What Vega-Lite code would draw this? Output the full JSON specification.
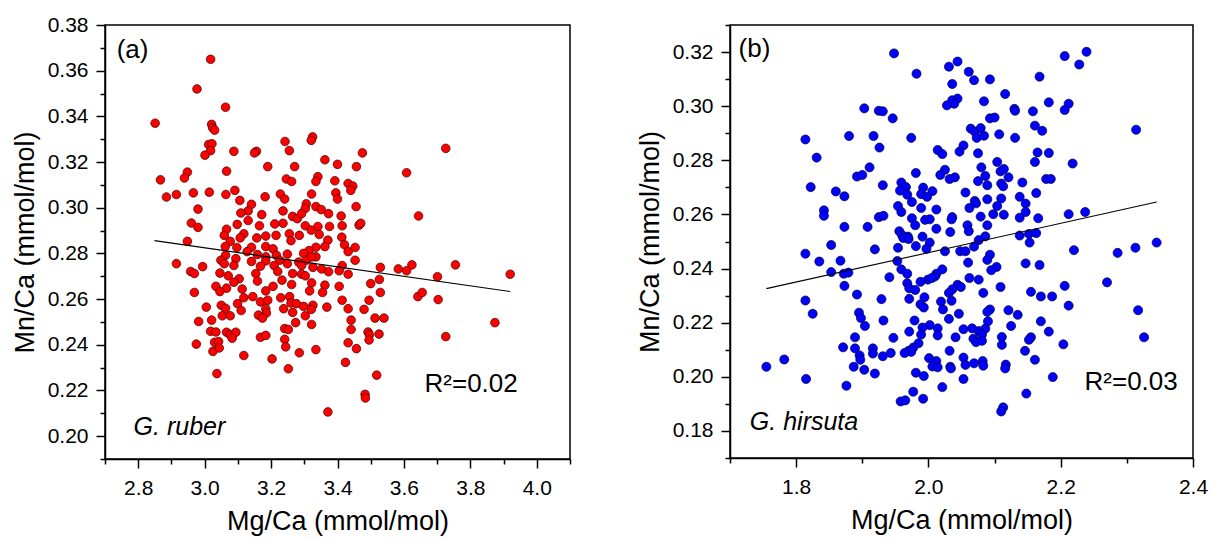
{
  "$schema": "https://vega.github.io/schema/vega-lite/v6.json",
  "padding": {"left": 10, "top": 13, "right": 5, "bottom": 5},
  "spacing": 160,
  "bounds": "flush",
  "config": {
    "view": {"stroke": "black", "strokeWidth": 1.5},
    "axis": {"domainColor": "black", "domainWidth": 1.5, "tickColor": "black", "tickWidth": 1.5, "labelColor": "black", "titleColor": "black", "labelFont": "Liberation Sans", "titleFont": "Liberation Sans", "labelFontSize": 21, "titleFontSize": 27, "titleFontWeight": "normal", "grid": false, "labelFlush": false, "labelOverlap": false},
    "text": {"font": "Liberation Sans"}
  },
  "datasets": {
    "ruber": [
      {"MgCa":3.018,"MnCa":0.365},{"MgCa":2.977,"MnCa":0.352},{"MgCa":3.063,"MnCa":0.344},{"MgCa":2.851,"MnCa":0.337},{"MgCa":3.021,"MnCa":0.3365},{"MgCa":3.024,"MnCa":0.335},{"MgCa":3.030,"MnCa":0.334},{"MgCa":3.726,"MnCa":0.326},{"MgCa":3.325,"MnCa":0.331},{"MgCa":3.321,"MnCa":0.3295},
      {"MgCa":3.242,"MnCa":0.329},{"MgCa":3.255,"MnCa":0.325},{"MgCa":3.156,"MnCa":0.3247},{"MgCa":3.150,"MnCa":0.324},{"MgCa":3.088,"MnCa":0.3247},{"MgCa":3.475,"MnCa":0.324},{"MgCa":3.012,"MnCa":0.3277},{"MgCa":3.022,"MnCa":0.328},{"MgCa":3.018,"MnCa":0.325},{"MgCa":3.001,"MnCa":0.323},
      {"MgCa":3.362,"MnCa":0.321},{"MgCa":3.271,"MnCa":0.318},{"MgCa":3.19,"MnCa":0.318},{"MgCa":3.40,"MnCa":0.319},{"MgCa":3.457,"MnCa":0.318},{"MgCa":3.066,"MnCa":0.316},{"MgCa":2.948,"MnCa":0.3156},{"MgCa":3.608,"MnCa":0.3153},{"MgCa":2.867,"MnCa":0.3122},{"MgCa":2.939,"MnCa":0.313},
      {"MgCa":3.246,"MnCa":0.3126},{"MgCa":3.262,"MnCa":0.3115},{"MgCa":3.341,"MnCa":0.3136},{"MgCa":3.335,"MnCa":0.3115},{"MgCa":3.392,"MnCa":0.3118},{"MgCa":3.432,"MnCa":0.3106},{"MgCa":3.446,"MnCa":0.3095},{"MgCa":3.440,"MnCa":0.3076},{"MgCa":2.885,"MnCa":0.3047},{"MgCa":2.915,"MnCa":0.3058},
      {"MgCa":2.966,"MnCa":0.3065},{"MgCa":3.014,"MnCa":0.3068},{"MgCa":3.064,"MnCa":0.3058},{"MgCa":3.091,"MnCa":0.3076},{"MgCa":3.182,"MnCa":0.3048},{"MgCa":3.228,"MnCa":0.306},{"MgCa":3.241,"MnCa":0.3038},{"MgCa":3.106,"MnCa":0.3032},{"MgCa":3.322,"MnCa":0.306},{"MgCa":3.395,"MnCa":0.3065},
      {"MgCa":3.40,"MnCa":0.3038},{"MgCa":3.306,"MnCa":0.3017},{"MgCa":3.303,"MnCa":0.2997},{"MgCa":3.335,"MnCa":0.3005},{"MgCa":3.351,"MnCa":0.2992},{"MgCa":3.456,"MnCa":0.3005},{"MgCa":2.98,"MnCa":0.2994},{"MgCa":3.141,"MnCa":0.3015},{"MgCa":3.131,"MnCa":0.2986},{"MgCa":3.109,"MnCa":0.2977},
      {"MgCa":3.172,"MnCa":0.297},{"MgCa":3.236,"MnCa":0.2986},{"MgCa":3.265,"MnCa":0.2962},{"MgCa":3.279,"MnCa":0.2952},{"MgCa":3.292,"MnCa":0.2974},{"MgCa":3.373,"MnCa":0.2974},{"MgCa":3.411,"MnCa":0.2964},{"MgCa":3.644,"MnCa":0.2964},{"MgCa":2.96,"MnCa":0.2933},{"MgCa":2.98,"MnCa":0.2914},
      {"MgCa":3.066,"MnCa":0.2906},{"MgCa":3.098,"MnCa":0.2927},{"MgCa":3.131,"MnCa":0.2944},{"MgCa":3.165,"MnCa":0.2921},{"MgCa":3.211,"MnCa":0.2929},{"MgCa":3.236,"MnCa":0.2932},{"MgCa":3.303,"MnCa":0.2921},{"MgCa":3.321,"MnCa":0.2902},{"MgCa":3.341,"MnCa":0.2918},{"MgCa":3.376,"MnCa":0.2918},
      {"MgCa":3.414,"MnCa":0.2921},{"MgCa":3.465,"MnCa":0.2924},{"MgCa":3.47,"MnCa":0.2932},{"MgCa":3.118,"MnCa":0.2886},{"MgCa":3.059,"MnCa":0.2879},{"MgCa":3.157,"MnCa":0.2868},{"MgCa":3.184,"MnCa":0.2876},{"MgCa":3.215,"MnCa":0.2879},{"MgCa":3.255,"MnCa":0.2886},{"MgCa":3.26,"MnCa":0.2856},
      {"MgCa":3.285,"MnCa":0.2879},{"MgCa":3.345,"MnCa":0.2883},{"MgCa":3.413,"MnCa":0.2871},{"MgCa":3.371,"MnCa":0.2858},{"MgCa":2.948,"MnCa":0.2853},{"MgCa":3.077,"MnCa":0.2853},{"MgCa":3.107,"MnCa":0.2868},{"MgCa":3.062,"MnCa":0.283},{"MgCa":3.097,"MnCa":0.2826},{"MgCa":3.141,"MnCa":0.2827},
      {"MgCa":3.184,"MnCa":0.283},{"MgCa":3.206,"MnCa":0.282},{"MgCa":3.335,"MnCa":0.2827},{"MgCa":3.362,"MnCa":0.283},{"MgCa":3.453,"MnCa":0.2826},{"MgCa":3.421,"MnCa":0.2838},{"MgCa":3.314,"MnCa":0.2812},{"MgCa":3.298,"MnCa":0.28},{"MgCa":3.249,"MnCa":0.2797},{"MgCa":3.063,"MnCa":0.2792},
      {"MgCa":3.128,"MnCa":0.2808},{"MgCa":3.159,"MnCa":0.2795},{"MgCa":3.184,"MnCa":0.2785},{"MgCa":3.216,"MnCa":0.2792},{"MgCa":3.432,"MnCa":0.2808},{"MgCa":3.335,"MnCa":0.2785},{"MgCa":3.453,"MnCa":0.277},{"MgCa":3.094,"MnCa":0.2777},{"MgCa":3.049,"MnCa":0.277},{"MgCa":3.141,"MnCa":0.2765},
      {"MgCa":3.184,"MnCa":0.2767},{"MgCa":3.226,"MnCa":0.277},{"MgCa":3.283,"MnCa":0.2762},{"MgCa":3.306,"MnCa":0.277},{"MgCa":3.322,"MnCa":0.2785},{"MgCa":2.915,"MnCa":0.2755},{"MgCa":2.994,"MnCa":0.2742},{"MgCa":3.059,"MnCa":0.2755},{"MgCa":3.088,"MnCa":0.2747},{"MgCa":3.168,"MnCa":0.2744},
      {"MgCa":3.209,"MnCa":0.2747},{"MgCa":3.249,"MnCa":0.2755},{"MgCa":3.292,"MnCa":0.2747},{"MgCa":3.326,"MnCa":0.2739},{"MgCa":3.352,"MnCa":0.2732},{"MgCa":3.414,"MnCa":0.2747},{"MgCa":3.529,"MnCa":0.2739},{"MgCa":3.583,"MnCa":0.2732},{"MgCa":3.624,"MnCa":0.275},{"MgCa":3.755,"MnCa":0.275},
      {"MgCa":2.958,"MnCa":0.2721},{"MgCa":2.969,"MnCa":0.2712},{"MgCa":3.046,"MnCa":0.2714},{"MgCa":3.071,"MnCa":0.2702},{"MgCa":3.154,"MnCa":0.2712},{"MgCa":3.22,"MnCa":0.2721},{"MgCa":3.265,"MnCa":0.2712},{"MgCa":3.292,"MnCa":0.2709},{"MgCa":3.373,"MnCa":0.272},{"MgCa":3.405,"MnCa":0.2724},
      {"MgCa":3.432,"MnCa":0.2709},{"MgCa":3.608,"MnCa":0.2724},{"MgCa":3.92,"MnCa":0.2709},{"MgCa":3.701,"MnCa":0.2698},{"MgCa":3.303,"MnCa":0.2702},{"MgCa":3.104,"MnCa":0.2689},{"MgCa":3.159,"MnCa":0.2679},{"MgCa":3.233,"MnCa":0.2683},{"MgCa":3.322,"MnCa":0.2671},{"MgCa":3.362,"MnCa":0.2661},
      {"MgCa":3.405,"MnCa":0.2656},{"MgCa":3.5,"MnCa":0.2668},{"MgCa":3.526,"MnCa":0.2686},{"MgCa":3.088,"MnCa":0.2674},{"MgCa":3.034,"MnCa":0.2656},{"MgCa":3.066,"MnCa":0.2648},{"MgCa":3.113,"MnCa":0.2644},{"MgCa":3.206,"MnCa":0.2656},{"MgCa":3.262,"MnCa":0.2664},{"MgCa":2.969,"MnCa":0.2629},
      {"MgCa":3.046,"MnCa":0.2633},{"MgCa":3.184,"MnCa":0.2636},{"MgCa":3.316,"MnCa":0.2636},{"MgCa":3.355,"MnCa":0.2629},{"MgCa":3.529,"MnCa":0.2629},{"MgCa":3.642,"MnCa":0.2611},{"MgCa":3.655,"MnCa":0.2629},{"MgCa":3.118,"MnCa":0.2606},{"MgCa":3.145,"MnCa":0.2611},{"MgCa":3.229,"MnCa":0.2606},
      {"MgCa":3.256,"MnCa":0.2611},{"MgCa":3.414,"MnCa":0.2595},{"MgCa":3.495,"MnCa":0.2595},{"MgCa":3.703,"MnCa":0.2598},{"MgCa":3.099,"MnCa":0.258},{"MgCa":3.05,"MnCa":0.2573},{"MgCa":3.168,"MnCa":0.2588},{"MgCa":3.19,"MnCa":0.2595},{"MgCa":3.26,"MnCa":0.2583},{"MgCa":3.276,"MnCa":0.258},
      {"MgCa":3.298,"MnCa":0.2568},{"MgCa":3.326,"MnCa":0.2573},{"MgCa":3.005,"MnCa":0.2565},{"MgCa":3.063,"MnCa":0.256},{"MgCa":3.238,"MnCa":0.2558},{"MgCa":3.184,"MnCa":0.2558},{"MgCa":3.368,"MnCa":0.2565},{"MgCa":3.432,"MnCa":0.2558},{"MgCa":3.48,"MnCa":0.2555},{"MgCa":3.11,"MnCa":0.255},
      {"MgCa":3.265,"MnCa":0.2542},{"MgCa":3.321,"MnCa":0.2555},{"MgCa":3.303,"MnCa":0.2527},{"MgCa":3.053,"MnCa":0.2527},{"MgCa":3.077,"MnCa":0.2527},{"MgCa":3.162,"MnCa":0.253},{"MgCa":3.186,"MnCa":0.2539},{"MgCa":3.174,"MnCa":0.2517},{"MgCa":3.021,"MnCa":0.2508},{"MgCa":2.982,"MnCa":0.2502},
      {"MgCa":3.513,"MnCa":0.2517},{"MgCa":3.54,"MnCa":0.2517},{"MgCa":3.441,"MnCa":0.2508},{"MgCa":3.274,"MnCa":0.2497},{"MgCa":3.874,"MnCa":0.2497},{"MgCa":3.322,"MnCa":0.2489},{"MgCa":3.241,"MnCa":0.2471},{"MgCa":3.252,"MnCa":0.2467},{"MgCa":3.441,"MnCa":0.2467},{"MgCa":3.018,"MnCa":0.2459},
      {"MgCa":3.034,"MnCa":0.2456},{"MgCa":3.066,"MnCa":0.2455},{"MgCa":3.077,"MnCa":0.2444},{"MgCa":3.094,"MnCa":0.2455},{"MgCa":3.083,"MnCa":0.2429},{"MgCa":3.492,"MnCa":0.2456},{"MgCa":3.496,"MnCa":0.2444},{"MgCa":3.525,"MnCa":0.2447},{"MgCa":3.168,"MnCa":0.2433},{"MgCa":3.184,"MnCa":0.2441},
      {"MgCa":3.241,"MnCa":0.2424},{"MgCa":3.726,"MnCa":0.2436},{"MgCa":2.975,"MnCa":0.2403},{"MgCa":3.03,"MnCa":0.2411},{"MgCa":3.042,"MnCa":0.2414},{"MgCa":3.432,"MnCa":0.2409},{"MgCa":3.244,"MnCa":0.2391},{"MgCa":3.495,"MnCa":0.2421},{"MgCa":3.025,"MnCa":0.2371},{"MgCa":3.044,"MnCa":0.2386},
      {"MgCa":3.457,"MnCa":0.2383},{"MgCa":3.335,"MnCa":0.2379},{"MgCa":3.285,"MnCa":0.2365},{"MgCa":3.118,"MnCa":0.2353},{"MgCa":3.203,"MnCa":0.2338},{"MgCa":3.424,"MnCa":0.2323},{"MgCa":3.252,"MnCa":0.2295},{"MgCa":3.037,"MnCa":0.2274},{"MgCa":3.518,"MnCa":0.2267},{"MgCa":3.483,"MnCa":0.2183},
      {"MgCa":3.484,"MnCa":0.2167},{"MgCa":3.371,"MnCa":0.2106}
    ],
    "hirsuta": [
      {"MgCa":1.948,"MnCa":0.3195},{"MgCa":2.239,"MnCa":0.3201},{"MgCa":2.206,"MnCa":0.3185},{"MgCa":2.228,"MnCa":0.3154},{"MgCa":2.044,"MnCa":0.3165},{"MgCa":2.031,"MnCa":0.3146},{"MgCa":2.061,"MnCa":0.3127},{"MgCa":1.982,"MnCa":0.312},{"MgCa":2.036,"MnCa":0.3082},{"MgCa":2.069,"MnCa":0.3096},
      {"MgCa":2.093,"MnCa":0.3099},{"MgCa":2.168,"MnCa":0.3109},{"MgCa":2.116,"MnCa":0.3045},{"MgCa":2.044,"MnCa":0.3028},{"MgCa":2.036,"MnCa":0.3022},{"MgCa":2.039,"MnCa":0.3009},{"MgCa":2.028,"MnCa":0.3003},{"MgCa":2.084,"MnCa":0.3018},{"MgCa":2.182,"MnCa":0.3014},{"MgCa":2.212,"MnCa":0.3009},
      {"MgCa":2.206,"MnCa":0.2986},{"MgCa":1.903,"MnCa":0.2992},{"MgCa":1.925,"MnCa":0.2983},{"MgCa":1.931,"MnCa":0.2981},{"MgCa":2.13,"MnCa":0.299},{"MgCa":2.131,"MnCa":0.2983},{"MgCa":2.158,"MnCa":0.2981},{"MgCa":1.946,"MnCa":0.2955},{"MgCa":2.093,"MnCa":0.2955},{"MgCa":2.1,"MnCa":0.2958},
      {"MgCa":2.064,"MnCa":0.2917},{"MgCa":2.07,"MnCa":0.2906},{"MgCa":2.079,"MnCa":0.2919},{"MgCa":2.161,"MnCa":0.2928},{"MgCa":2.172,"MnCa":0.2909},{"MgCa":2.314,"MnCa":0.2913},{"MgCa":1.814,"MnCa":0.2877},{"MgCa":1.88,"MnCa":0.289},{"MgCa":1.917,"MnCa":0.289},{"MgCa":1.974,"MnCa":0.2883},
      {"MgCa":2.073,"MnCa":0.2883},{"MgCa":2.084,"MnCa":0.2891},{"MgCa":2.107,"MnCa":0.2896},{"MgCa":2.131,"MnCa":0.2883},{"MgCa":1.926,"MnCa":0.2847},{"MgCa":2.053,"MnCa":0.2855},{"MgCa":2.047,"MnCa":0.2832},{"MgCa":2.014,"MnCa":0.2838},{"MgCa":2.021,"MnCa":0.2823},{"MgCa":2.075,"MnCa":0.2826},
      {"MgCa":2.165,"MnCa":0.2829},{"MgCa":2.161,"MnCa":0.2794},{"MgCa":2.182,"MnCa":0.2827},{"MgCa":1.831,"MnCa":0.281},{"MgCa":2.104,"MnCa":0.2794},{"MgCa":2.218,"MnCa":0.2788},{"MgCa":1.911,"MnCa":0.2774},{"MgCa":2.08,"MnCa":0.2774},{"MgCa":2.109,"MnCa":0.2759},{"MgCa":2.114,"MnCa":0.2768},
      {"MgCa":2.025,"MnCa":0.2765},{"MgCa":1.981,"MnCa":0.2753},{"MgCa":2.018,"MnCa":0.2746},{"MgCa":2.04,"MnCa":0.2737},{"MgCa":2.032,"MnCa":0.2731},{"MgCa":2.086,"MnCa":0.2742},{"MgCa":2.121,"MnCa":0.2737},{"MgCa":2.178,"MnCa":0.2731},{"MgCa":2.185,"MnCa":0.2731},{"MgCa":1.892,"MnCa":0.274},
      {"MgCa":1.9,"MnCa":0.2746},{"MgCa":2.11,"MnCa":0.2714},{"MgCa":1.959,"MnCa":0.2718},{"MgCa":2.075,"MnCa":0.2723},{"MgCa":2.089,"MnCa":0.2708},{"MgCa":2.142,"MnCa":0.2718},{"MgCa":2.113,"MnCa":0.2704},{"MgCa":1.931,"MnCa":0.2708},{"MgCa":1.966,"MnCa":0.2701},{"MgCa":1.992,"MnCa":0.2699},
      {"MgCa":2.006,"MnCa":0.2686},{"MgCa":1.822,"MnCa":0.2701},{"MgCa":1.86,"MnCa":0.2685},{"MgCa":1.873,"MnCa":0.2667},{"MgCa":1.957,"MnCa":0.2688},{"MgCa":1.968,"MnCa":0.2673},{"MgCa":1.989,"MnCa":0.2675},{"MgCa":1.998,"MnCa":0.2665},{"MgCa":2.056,"MnCa":0.2681},{"MgCa":2.07,"MnCa":0.265},
      {"MgCa":2.072,"MnCa":0.2641},{"MgCa":2.089,"MnCa":0.2656},{"MgCa":2.11,"MnCa":0.2659},{"MgCa":2.138,"MnCa":0.2665},{"MgCa":2.163,"MnCa":0.2679},{"MgCa":2.147,"MnCa":0.264},{"MgCa":2.104,"MnCa":0.2631},{"MgCa":1.842,"MnCa":0.2615},{"MgCa":1.842,"MnCa":0.2595},{"MgCa":1.954,"MnCa":0.2631},
      {"MgCa":1.975,"MnCa":0.2646},{"MgCa":1.989,"MnCa":0.2624},{"MgCa":2.012,"MnCa":0.2618},{"MgCa":2.062,"MnCa":0.2624},{"MgCa":1.959,"MnCa":0.2609},{"MgCa":2.098,"MnCa":0.2601},{"MgCa":2.114,"MnCa":0.2599},{"MgCa":2.147,"MnCa":0.2609},{"MgCa":2.212,"MnCa":0.2601},{"MgCa":2.237,"MnCa":0.2609},
      {"MgCa":1.925,"MnCa":0.259},{"MgCa":1.932,"MnCa":0.2595},{"MgCa":2.036,"MnCa":0.259},{"MgCa":2.035,"MnCa":0.2582},{"MgCa":2.079,"MnCa":0.2592},{"MgCa":1.975,"MnCa":0.2586},{"MgCa":1.995,"MnCa":0.258},{"MgCa":2.002,"MnCa":0.2582},{"MgCa":2.138,"MnCa":0.2588},{"MgCa":2.166,"MnCa":0.2586},
      {"MgCa":1.873,"MnCa":0.2554},{"MgCa":1.908,"MnCa":0.2554},{"MgCa":1.98,"MnCa":0.256},{"MgCa":2.059,"MnCa":0.256},{"MgCa":2.061,"MnCa":0.2538},{"MgCa":2.089,"MnCa":0.256},{"MgCa":2.012,"MnCa":0.2547},{"MgCa":1.956,"MnCa":0.2538},{"MgCa":1.991,"MnCa":0.2518},{"MgCa":1.96,"MnCa":0.2524},
      {"MgCa":1.969,"MnCa":0.2518},{"MgCa":1.962,"MnCa":0.2513},{"MgCa":1.97,"MnCa":0.2509},{"MgCa":2.033,"MnCa":0.2535},{"MgCa":2.086,"MnCa":0.2519},{"MgCa":2.152,"MnCa":0.2528},{"MgCa":2.138,"MnCa":0.2522},{"MgCa":2.163,"MnCa":0.2531},{"MgCa":2.153,"MnCa":0.2496},{"MgCa":2.002,"MnCa":0.2496},
      {"MgCa":1.954,"MnCa":0.2477},{"MgCa":1.981,"MnCa":0.2483},{"MgCa":1.997,"MnCa":0.2473},{"MgCa":2.076,"MnCa":0.2505},{"MgCa":2.069,"MnCa":0.2481},{"MgCa":2.048,"MnCa":0.2464},{"MgCa":2.056,"MnCa":0.2464},{"MgCa":1.919,"MnCa":0.2471},{"MgCa":2.025,"MnCa":0.2464},{"MgCa":2.22,"MnCa":0.2468},
      {"MgCa":2.313,"MnCa":0.2477},{"MgCa":2.345,"MnCa":0.2496},{"MgCa":1.853,"MnCa":0.2487},{"MgCa":1.814,"MnCa":0.2455},{"MgCa":2.093,"MnCa":0.2451},{"MgCa":2.286,"MnCa":0.2458},{"MgCa":1.953,"MnCa":0.2428},{"MgCa":2.06,"MnCa":0.2422},{"MgCa":2.089,"MnCa":0.2432},{"MgCa":1.835,"MnCa":0.2426},
      {"MgCa":1.867,"MnCa":0.2429},{"MgCa":2.147,"MnCa":0.2419},{"MgCa":2.168,"MnCa":0.2413},{"MgCa":2.103,"MnCa":0.2406},{"MgCa":2.095,"MnCa":0.2394},{"MgCa":1.959,"MnCa":0.2397},{"MgCa":2.021,"MnCa":0.2397},{"MgCa":1.853,"MnCa":0.2387},{"MgCa":1.872,"MnCa":0.2381},{"MgCa":1.879,"MnCa":0.2385},
      {"MgCa":1.968,"MnCa":0.2381},{"MgCa":2.012,"MnCa":0.2381},{"MgCa":2.01,"MnCa":0.2371},{"MgCa":1.941,"MnCa":0.2368},{"MgCa":1.999,"MnCa":0.2359},{"MgCa":2.005,"MnCa":0.2365},{"MgCa":2.062,"MnCa":0.2365},{"MgCa":2.076,"MnCa":0.2359},{"MgCa":1.968,"MnCa":0.2346},{"MgCa":1.988,"MnCa":0.2351},
      {"MgCa":2.044,"MnCa":0.234},{"MgCa":2.036,"MnCa":0.2323},{"MgCa":2.049,"MnCa":0.2332},{"MgCa":2.109,"MnCa":0.2332},{"MgCa":2.206,"MnCa":0.2336},{"MgCa":2.27,"MnCa":0.2349},{"MgCa":1.873,"MnCa":0.2336},{"MgCa":1.971,"MnCa":0.2327},{"MgCa":1.98,"MnCa":0.2321},{"MgCa":2.083,"MnCa":0.231},
      {"MgCa":2.155,"MnCa":0.2314},{"MgCa":2.031,"MnCa":0.231},{"MgCa":1.994,"MnCa":0.2294},{"MgCa":1.892,"MnCa":0.2304},{"MgCa":2.17,"MnCa":0.2297},{"MgCa":2.187,"MnCa":0.2297},{"MgCa":1.971,"MnCa":0.2288},{"MgCa":1.929,"MnCa":0.2287},{"MgCa":2.035,"MnCa":0.2281},{"MgCa":2.019,"MnCa":0.2278},
      {"MgCa":1.814,"MnCa":0.2282},{"MgCa":1.988,"MnCa":0.2268},{"MgCa":1.993,"MnCa":0.2256},{"MgCa":2.212,"MnCa":0.2263},{"MgCa":2.022,"MnCa":0.2249},{"MgCa":2.093,"MnCa":0.2249},{"MgCa":2.089,"MnCa":0.224},{"MgCa":2.121,"MnCa":0.2246},{"MgCa":2.317,"MnCa":0.2246},{"MgCa":1.895,"MnCa":0.2237},
      {"MgCa":1.825,"MnCa":0.2233},{"MgCa":2.046,"MnCa":0.2233},{"MgCa":2.135,"MnCa":0.2229},{"MgCa":1.898,"MnCa":0.2217},{"MgCa":2.031,"MnCa":0.2214},{"MgCa":1.979,"MnCa":0.2208},{"MgCa":1.932,"MnCa":0.2208},{"MgCa":2.09,"MnCa":0.2205},{"MgCa":2.17,"MnCa":0.2205},{"MgCa":1.904,"MnCa":0.2188},
      {"MgCa":2.002,"MnCa":0.2191},{"MgCa":1.991,"MnCa":0.2182},{"MgCa":2.014,"MnCa":0.2179},{"MgCa":2.125,"MnCa":0.2188},{"MgCa":2.066,"MnCa":0.2179},{"MgCa":2.053,"MnCa":0.2176},{"MgCa":2.086,"MnCa":0.2178},{"MgCa":2.076,"MnCa":0.2169},{"MgCa":1.971,"MnCa":0.2167},{"MgCa":2.182,"MnCa":0.2167},
      {"MgCa":2.014,"MnCa":0.2153},{"MgCa":1.989,"MnCa":0.2156},{"MgCa":2.041,"MnCa":0.2146},{"MgCa":2.068,"MnCa":0.2141},{"MgCa":2.081,"MnCa":0.2156},{"MgCa":1.889,"MnCa":0.2146},{"MgCa":1.947,"MnCa":0.2144},{"MgCa":2.155,"MnCa":0.2146},{"MgCa":2.111,"MnCa":0.2147},{"MgCa":2.326,"MnCa":0.2146},
      {"MgCa":2.152,"MnCa":0.2137},{"MgCa":2.072,"MnCa":0.2128},{"MgCa":2.081,"MnCa":0.2133},{"MgCa":1.985,"MnCa":0.2124},{"MgCa":2.111,"MnCa":0.2118},{"MgCa":2.204,"MnCa":0.212},{"MgCa":1.871,"MnCa":0.2109},{"MgCa":1.889,"MnCa":0.2105},{"MgCa":1.916,"MnCa":0.2105},{"MgCa":1.977,"MnCa":0.2108},
      {"MgCa":1.916,"MnCa":0.2086},{"MgCa":1.97,"MnCa":0.2096},{"MgCa":1.974,"MnCa":0.2092},{"MgCa":1.943,"MnCa":0.2088},{"MgCa":2.032,"MnCa":0.2096},{"MgCa":2.146,"MnCa":0.2096},{"MgCa":1.896,"MnCa":0.2079},{"MgCa":1.931,"MnCa":0.2076},{"MgCa":1.897,"MnCa":0.2063},{"MgCa":1.964,"MnCa":0.2088},
      {"MgCa":2.001,"MnCa":0.2069},{"MgCa":2.053,"MnCa":0.2071},{"MgCa":2.082,"MnCa":0.2058},{"MgCa":2.161,"MnCa":0.2063},{"MgCa":1.782,"MnCa":0.2064},{"MgCa":2.012,"MnCa":0.2058},{"MgCa":2.056,"MnCa":0.2044},{"MgCa":2.069,"MnCa":0.205},{"MgCa":2.006,"MnCa":0.2038},{"MgCa":2.014,"MnCa":0.2035},
      {"MgCa":2.083,"MnCa":0.2041},{"MgCa":2.117,"MnCa":0.2045},{"MgCa":2.116,"MnCa":0.2031},{"MgCa":2.033,"MnCa":0.2037},{"MgCa":2.034,"MnCa":0.2031},{"MgCa":1.755,"MnCa":0.2037},{"MgCa":1.887,"MnCa":0.2037},{"MgCa":1.903,"MnCa":0.2026},{"MgCa":1.919,"MnCa":0.2012},{"MgCa":1.981,"MnCa":0.2015},
      {"MgCa":1.993,"MnCa":0.2003},{"MgCa":2.053,"MnCa":0.1992},{"MgCa":2.188,"MnCa":0.1999},{"MgCa":1.815,"MnCa":0.1992},{"MgCa":1.876,"MnCa":0.1967},{"MgCa":2.021,"MnCa":0.1962},{"MgCa":1.977,"MnCa":0.1945},{"MgCa":2.148,"MnCa":0.1938},{"MgCa":1.992,"MnCa":0.1919},{"MgCa":1.958,"MnCa":0.1909},
      {"MgCa":1.965,"MnCa":0.1913},{"MgCa":2.113,"MnCa":0.1887},{"MgCa":2.11,"MnCa":0.1872}
    ],
    "fitA": [{"MgCa": 2.849, "MnCa": 0.2856}, {"MgCa": 3.92, "MnCa": 0.2633}],
    "fitB": [{"MgCa": 1.755, "MnCa": 0.2326}, {"MgCa": 2.345, "MnCa": 0.2646}],
    "notesA": [{"MgCa": 2.735, "MnCa": 0.3656, "label": "(a)"}, {"MgCa": 3.662, "MnCa": 0.2193, "label": "R²=0.02"}],
    "speciesA": [{"MgCa": 2.786, "MnCa": 0.2005, "label": "G. ruber"}],
    "notesB": [{"MgCa": 1.713, "MnCa": 0.3182, "label": "(b)"}, {"MgCa": 2.236, "MnCa": 0.1951, "label": "R²=0.03"}],
    "speciesB": [{"MgCa": 1.730, "MnCa": 0.1805, "label": "G. hirsuta"}]
  },
  "hconcat": [
    {
      "width": 465,
      "height": 434,
      "encoding": {
        "x": {"field": "MgCa", "type": "quantitative", "scale": {"domain": [2.7, 4.1], "nice": false, "zero": false},
          "axis": {"title": "Mg/Ca (mmol/mol)", "values": [2.7,2.8,2.9,3.0,3.1,3.2,3.3,3.4,3.5,3.6,3.7,3.8,3.9,4.0,4.1],
            "tickSize": {"condition": {"test": "round(datum.value*10) % 2 == 0", "value": 9}, "value": 5},
            "labelExpr": "round(datum.value*10) % 2 == 0 ? format(datum.value, '.1f') : ''", "labelPadding": 9, "titlePadding": 10}},
        "y": {"field": "MnCa", "type": "quantitative", "scale": {"domain": [0.19, 0.38], "nice": false, "zero": false},
          "axis": {"title": "Mn/Ca (mmol/mol)", "values": [0.19,0.2,0.21,0.22,0.23,0.24,0.25,0.26,0.27,0.28,0.29,0.3,0.31,0.32,0.33,0.34,0.35,0.36,0.37,0.38],
            "tickSize": {"condition": {"test": "round(datum.value*100) % 2 == 0", "value": 9}, "value": 5},
            "labelExpr": "round(datum.value*100) % 2 == 0 ? format(datum.value, '.2f') : ''", "labelPadding": 8, "titlePadding": 8}}
      },
      "layer": [
        {"data": {"name": "ruber"}, "mark": {"type": "circle", "size": 75, "color": "#ff0000", "opacity": 1, "stroke": "#3a0000", "strokeWidth": 0.7}},
        {"data": {"name": "fitA"}, "mark": {"type": "line", "color": "black", "strokeWidth": 1.1}},
        {"data": {"name": "notesA"}, "mark": {"type": "text", "align": "left", "baseline": "alphabetic", "fontSize": 26, "color": "black"}, "encoding": {"text": {"field": "label"}}},
        {"data": {"name": "speciesA"}, "mark": {"type": "text", "align": "left", "baseline": "alphabetic", "fontSize": 25, "fontStyle": "italic", "color": "black"}, "encoding": {"text": {"field": "label"}}}
      ]
    },
    {
      "width": 463,
      "height": 433,
      "encoding": {
        "x": {"field": "MgCa", "type": "quantitative", "scale": {"domain": [1.7, 2.4], "nice": false, "zero": false},
          "axis": {"title": "Mg/Ca (mmol/mol)", "values": [1.7,1.8,1.9,2.0,2.1,2.2,2.3,2.4],
            "tickSize": {"condition": {"test": "round(datum.value*10) % 2 == 0", "value": 9}, "value": 5},
            "labelExpr": "round(datum.value*10) % 2 == 0 ? format(datum.value, '.1f') : ''", "labelPadding": 9, "titlePadding": 10}},
        "y": {"field": "MnCa", "type": "quantitative", "scale": {"domain": [0.17, 0.33], "nice": false, "zero": false},
          "axis": {"title": "Mn/Ca (mmol/mol)", "values": [0.17,0.18,0.19,0.2,0.21,0.22,0.23,0.24,0.25,0.26,0.27,0.28,0.29,0.3,0.31,0.32,0.33],
            "tickSize": {"condition": {"test": "round(datum.value*100) % 2 == 0", "value": 9}, "value": 5},
            "labelExpr": "round(datum.value*100) % 2 == 0 ? format(datum.value, '.2f') : ''", "labelPadding": 8, "titlePadding": 8}}
      },
      "layer": [
        {"data": {"name": "hirsuta"}, "mark": {"type": "circle", "size": 82, "color": "#0000ff", "opacity": 1, "stroke": "#00003a", "strokeWidth": 0.7}},
        {"data": {"name": "fitB"}, "mark": {"type": "line", "color": "black", "strokeWidth": 1.1}},
        {"data": {"name": "notesB"}, "mark": {"type": "text", "align": "left", "baseline": "alphabetic", "fontSize": 26, "color": "black"}, "encoding": {"text": {"field": "label"}}},
        {"data": {"name": "speciesB"}, "mark": {"type": "text", "align": "left", "baseline": "alphabetic", "fontSize": 25, "fontStyle": "italic", "color": "black"}, "encoding": {"text": {"field": "label"}}}
      ]
    }
  ]
}
